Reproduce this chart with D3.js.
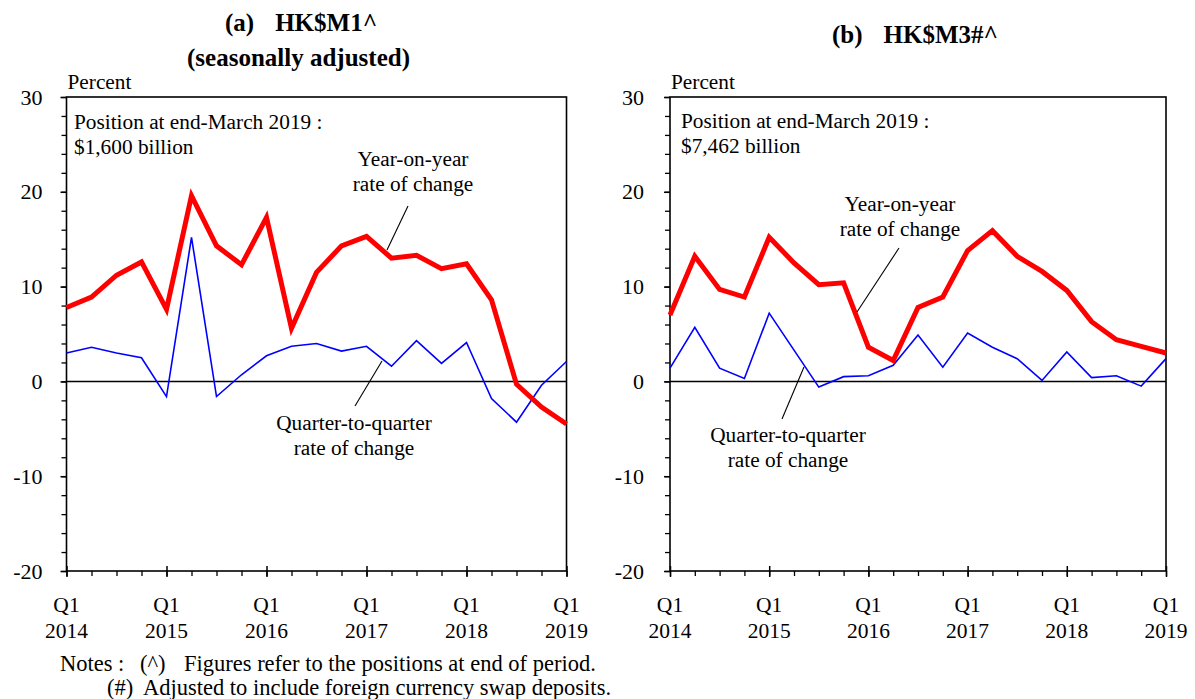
<!DOCTYPE html>
<html>
<head>
<meta charset="utf-8">
<script src="https://cdn.jsdelivr.net/npm/d3@7"></script>
<style>
  html, body { margin: 0; padding: 0; background: #fff; }
  svg { display: block; }
  svg text { font-family: "Liberation Serif", Tinos, "Times New Roman", Times, "Nimbus Roman", "Noto Serif", "DejaVu Serif", serif; }
</style>
</head>
<body>
<svg id="chart" width="1195" height="699"></svg>
<script>
// Quarterly observations, Q1 2014 to Q1 2019
const quarters = [
  "2014Q1","2014Q2","2014Q3","2014Q4",
  "2015Q1","2015Q2","2015Q3","2015Q4",
  "2016Q1","2016Q2","2016Q3","2016Q4",
  "2017Q1","2017Q2","2017Q3","2017Q4",
  "2018Q1","2018Q2","2018Q3","2018Q4",
  "2019Q1"
];
const yearTicks = ["2014Q1","2015Q1","2016Q1","2017Q1","2018Q1","2019Q1"];
const yearLabels = ["2014","2015","2016","2017","2018","2019"];
const yTicks = [30, 20, 10, 0, -10, -20];

// HK$M1 (seasonally adjusted), % change
const m1YoY = [7.8, 8.9, 11.2, 12.6, 7.6, 19.6, 14.3, 12.3, 17.3, 5.6, 11.5,
               14.3, 15.3, 13.0, 13.3, 11.9, 12.4, 8.6, -0.3, -2.7, -4.5];
const m1QoQ = [3.0, 3.6, 3.0, 2.5, -1.6, 15.2, -1.6, 0.7, 2.7, 3.7, 4.0,
               3.2, 3.7, 1.6, 4.3, 1.9, 4.1, -1.8, -4.3, -0.4, 2.1];

// HK$M3, % change
const m3YoY = [7.0, 13.2, 9.7, 8.9, 15.2, 12.5, 10.2, 10.4, 3.6, 2.2, 7.8,
               8.9, 13.8, 15.9, 13.2, 11.6, 9.6, 6.3, 4.4, 3.7, 3.0];
const m3QoQ = [1.4, 5.7, 1.4, 0.3, 7.2, 3.3, -0.6, 0.5, 0.6, 1.7, 4.9,
               1.5, 5.1, 3.6, 2.4, 0.1, 3.1, 0.4, 0.6, -0.5, 2.4];

const SERIF = "'Liberation Serif', Tinos, 'Times New Roman', Times, 'Nimbus Roman', 'Noto Serif', 'DejaVu Serif', serif";
const svg = d3.select("#chart").attr("font-family", SERIF);
const FONT = 21.3;

const y = d3.scaleLinear().domain([-20, 30]).range([571, 97]);

function drawPanel(p) {
  const g = svg.append("g");
  const x = d3.scalePoint().domain(quarters).range([p.x0, p.x1]);
  const [yb, yt] = y.range();

  // y axis: minor ticks every 2, labelled ticks every 10
  g.append("g")
    .attr("transform", `translate(${p.x0},0)`)
    .call(d3.axisLeft(y).tickValues(d3.range(-20, 31, 2)).tickSize(5).tickFormat(""))
    .call(a => a.select(".domain").remove())
    .call(a => a.selectAll("line").attr("stroke", "#000").attr("stroke-width", 1.3));
  g.append("g")
    .attr("transform", `translate(${p.x0},0)`)
    .call(d3.axisLeft(y).tickValues(yTicks).tickSize(6).tickPadding(p.yPad).tickFormat(d => String(d)))
    .attr("font-family", SERIF)
    .call(a => a.select(".domain").remove())
    .call(a => a.selectAll("line").attr("stroke", "#000").attr("stroke-width", 1.5))
    .call(a => a.selectAll("text").attr("font-size", 22).attr("fill", "#000"));

  // x axis: quarterly ticks below, yearly ticks crossing the axis
  g.append("g")
    .attr("transform", `translate(0,${yb})`)
    .call(d3.axisBottom(x).tickValues(quarters).tickSize(5).tickFormat(""))
    .call(a => a.select(".domain").remove())
    .call(a => a.selectAll("line").attr("stroke", "#000").attr("stroke-width", 1.3));
  g.append("g")
    .attr("transform", `translate(0,${yb - 5})`)
    .call(d3.axisBottom(x).tickValues(yearTicks).tickSize(11).tickFormat(""))
    .call(a => a.select(".domain").remove())
    .call(a => a.selectAll("line").attr("stroke", "#000").attr("stroke-width", 1.5));

  const lbl = g.append("g").attr("font-size", 21.5).attr("text-anchor", "middle").attr("fill", "#000");
  yearTicks.forEach((q, i) => {
    lbl.append("text").attr("x", x(q)).attr("y", 612).text("Q1");
    lbl.append("text").attr("x", x(q)).attr("y", 638).text(yearLabels[i]);
  });

  // plot frame and zero line
  g.append("rect")
    .attr("x", p.x0).attr("y", yt)
    .attr("width", p.x1 - p.x0).attr("height", yb - yt)
    .attr("fill", "none").attr("stroke", "#000").attr("stroke-width", 1.6);
  g.append("line")
    .attr("x1", p.x0).attr("x2", p.x1)
    .attr("y1", y(0)).attr("y2", y(0))
    .attr("stroke", "#000").attr("stroke-width", 1.5);

  const line = d3.line().x((d, i) => x(quarters[i])).y(d => y(d));
  g.append("path").datum(p.qoq).attr("d", line)
    .attr("fill", "none").attr("stroke", "#0000ff").attr("stroke-width", 1.6);
  g.append("path").datum(p.yoy).attr("d", line)
    .attr("fill", "none").attr("stroke", "#ff0000").attr("stroke-width", 5)
    .attr("stroke-linejoin", "miter");

  // text
  const t = g.append("g").attr("font-size", FONT).attr("fill", "#000");
  t.append("text").attr("x", p.x0 + 1).attr("y", 89).text("Percent");
  t.append("text").attr("x", p.posX).attr("y", p.posY).text("Position at end-March 2019 :");
  t.append("text").attr("x", p.posX).attr("y", p.posY + 25).text(p.position);

  p.notes.forEach(n => {
    const a = t.append("g").attr("text-anchor", "middle");
    a.append("text").attr("x", n.tx).attr("y", n.ty).text(n.l1);
    a.append("text").attr("x", n.tx).attr("y", n.ty + 25).text("rate of change");
    g.append("line")
      .attr("x1", n.from[0]).attr("y1", n.from[1])
      .attr("x2", n.to[0]).attr("y2", n.to[1])
      .attr("stroke", "#000").attr("stroke-width", 1.1);
  });

  // title
  const tt = g.append("g").attr("font-weight", "bold").attr("font-size", 25).attr("fill", "#000");
  p.title.forEach(s => {
    const tx = tt.append("text").attr("x", s.x).attr("y", s.y);
    if (s.tag) {
      tx.append("tspan").text(s.tag);
      tx.append("tspan").attr("dx", s.gap).text(s.text);
    } else {
      tx.attr("text-anchor", "middle").text(s.text);
    }
  });
}

drawPanel({
  x0: 66.5, x1: 566.5, yPad: 18,
  yoy: m1YoY, qoq: m1QoQ,
  position: "$1,600 billion", posX: 74, posY: 129,
  notes: [
    { l1: "Year-on-year", tx: 413, ty: 166, from: [408, 206], to: [387, 250] },
    { l1: "Quarter-to-quarter", tx: 354, ty: 430, from: [382, 361], to: [355, 406] }
  ],
  title: [
    { tag: "(a)", gap: 21, text: "HK$M1^", x: 225, y: 31 },
    { text: "(seasonally adjusted)", x: 298.5, y: 66 }
  ]
});

drawPanel({
  x0: 670, x1: 1166, yPad: 20,
  yoy: m3YoY, qoq: m3QoQ,
  position: "$7,462 billion", posX: 681, posY: 128,
  notes: [
    { l1: "Year-on-year", tx: 900, ty: 211, from: [899, 248], to: [857, 312] },
    { l1: "Quarter-to-quarter", tx: 788, ty: 442, from: [804, 367], to: [782, 419] }
  ],
  title: [
    { tag: "(b)", gap: 21, text: "HK$M3#^", x: 832, y: 43 }
  ]
});

// footnotes
const notes = svg.append("g").attr("font-size", 22.5).attr("fill", "#000");
notes.append("text").attr("x", 60).attr("y", 671).text("Notes :");
notes.append("text").attr("x", 140).attr("y", 671).text("(^)");
notes.append("text").attr("x", 184).attr("y", 671).text("Figures refer to the positions at end of period.");
notes.append("text").attr("x", 107).attr("y", 695).text("(#)");
notes.append("text").attr("x", 143).attr("y", 695).text("Adjusted to include foreign currency swap deposits.");
</script>
</body>
</html>
